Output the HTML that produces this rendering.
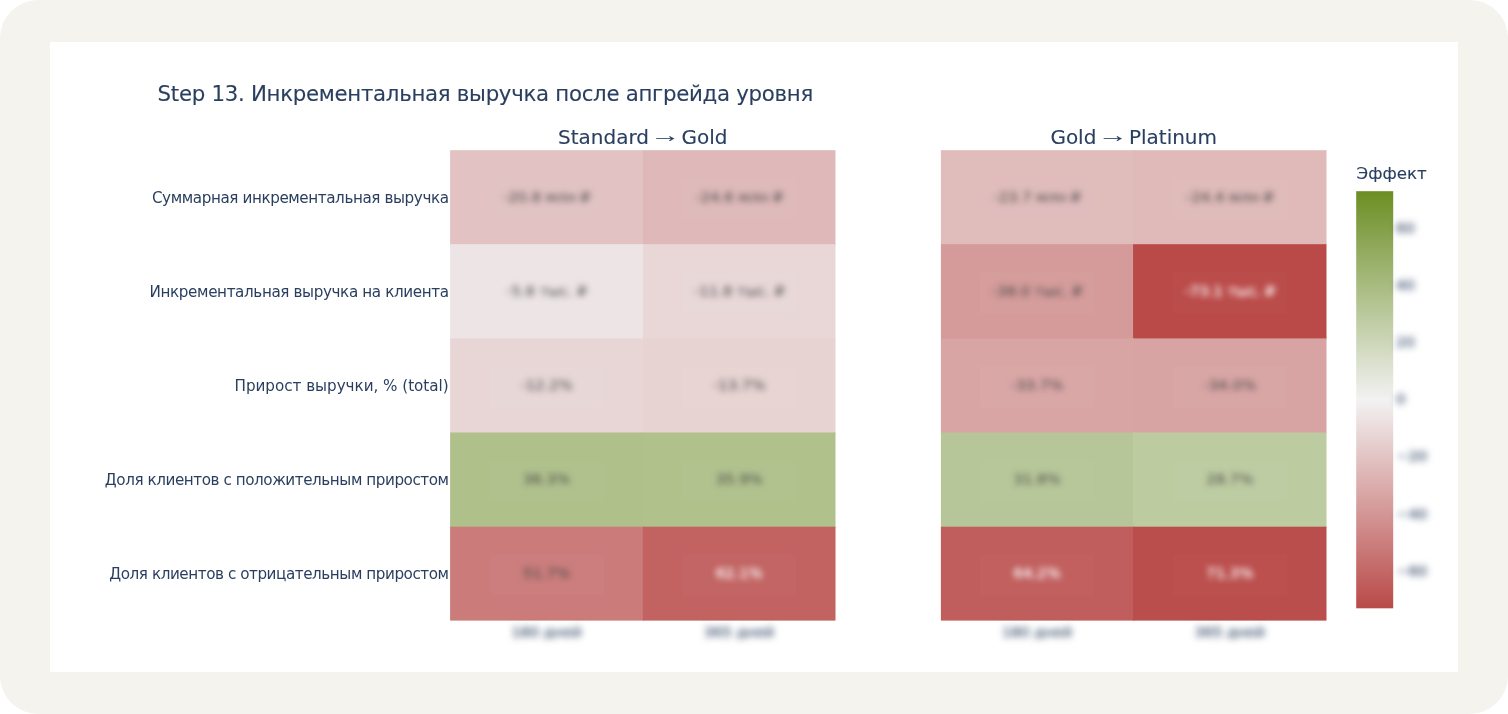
<!DOCTYPE html>
<html lang="ru"><head><meta charset="utf-8"><title>Step 13</title>
<style>
html,body{margin:0;padding:0;}
body{width:1508px;height:714px;background:#fff;position:relative;overflow:hidden;font-family:"DejaVu Sans","Liberation Sans",sans-serif;color:#2a3f5f;}
.frame{position:absolute;left:0;top:0;width:1508px;height:714px;background:#f4f3ee;border-radius:38px;}
.card{position:absolute;left:50px;top:42px;width:1408px;height:630px;background:#fff;}
.t{position:absolute;white-space:nowrap;line-height:1;}
.title,.sub,.yl,.cbt{filter:blur(0.4px);}
.title,.sub,.cbt{-webkit-text-stroke:0.12px currentColor;}
.title{font-size:21.3px;left:157.6px;top:83.2px;letter-spacing:-0.29px;}
.sub{font-size:20px;transform:translateX(-50%);top:127.4px;letter-spacing:-0.02px;}
.ar{font-family:"Liberation Sans",sans-serif;display:inline-block;transform:translateY(-1.6px) scaleX(1.5);}
.yl{font-size:15.2px;text-align:right;right:1059.4px;}
.hm{position:absolute;left:0;top:0;}
.ct{font-size:14.8px;transform:translate(-50%,-50%);margin-top:1.6px;color:#444;width:114px;height:41px;line-height:36.5px;text-align:center;background:rgba(255,255,255,0.028);}
.ct.w{color:#fff;background:rgba(255,255,255,0.016);-webkit-text-stroke:0.35px #fff;}
.ct span{display:block;filter:blur(3px);}
.xl{font-size:14.5px;transform:translateX(-50%);top:625px;filter:blur(3.6px);-webkit-text-stroke:0.2px currentColor;}
.cbt{font-size:16.7px;left:1356.5px;top:165.2px;}
.tk{font-size:14.8px;left:1396px;filter:blur(3.6px);-webkit-text-stroke:0.2px currentColor;}
</style></head><body>
<div class="frame"></div><div class="card"></div>
<div class="t title">Step 13. Инкрементальная выручка после апгрейда уровня</div>
<svg class="hm" width="1508" height="714" viewBox="0 0 1508 714">
<defs><linearGradient id="cbg" x1="0" y1="0" x2="0" y2="1"><stop offset="0" stop-color="rgb(107,142,35)"/><stop offset="0.5" stop-color="rgb(242,242,242)"/><stop offset="1" stop-color="rgb(185,74,72)"/></linearGradient></defs>
<g>
<rect x="450.10" y="150.20" width="193.80" height="95.00" fill="rgb(226,194,194)"/>
<rect x="642.90" y="150.20" width="192.60" height="95.00" fill="rgb(223,185,185)"/>
<rect x="450.10" y="244.20" width="193.80" height="95.20" fill="rgb(237,229,229)"/>
<rect x="642.90" y="244.20" width="192.60" height="95.20" fill="rgb(233,215,215)"/>
<rect x="450.10" y="338.40" width="193.80" height="95.10" fill="rgb(232,214,214)"/>
<rect x="642.90" y="338.40" width="192.60" height="95.10" fill="rgb(231,211,210)"/>
<rect x="450.10" y="432.50" width="193.80" height="95.20" fill="rgb(175,192,139)"/>
<rect x="642.90" y="432.50" width="192.60" height="95.20" fill="rgb(176,193,140)"/>
<rect x="450.10" y="526.70" width="193.80" height="93.90" fill="rgb(202,123,122)"/>
<rect x="642.90" y="526.70" width="192.60" height="93.90" fill="rgb(194,99,98)"/>
</g>
<g>
<rect x="940.90" y="150.20" width="193.20" height="95.00" fill="rgb(224,188,187)"/>
<rect x="1133.10" y="150.20" width="193.40" height="95.00" fill="rgb(223,186,185)"/>
<rect x="940.90" y="244.20" width="193.20" height="95.20" fill="rgb(212,155,154)"/>
<rect x="1133.10" y="244.20" width="193.40" height="95.20" fill="rgb(185,74,72)"/>
<rect x="940.90" y="338.40" width="193.20" height="95.10" fill="rgb(216,165,164)"/>
<rect x="1133.10" y="338.40" width="193.40" height="95.10" fill="rgb(215,164,163)"/>
<rect x="940.90" y="432.50" width="193.20" height="95.20" fill="rgb(183,198,152)"/>
<rect x="1133.10" y="432.50" width="193.40" height="95.20" fill="rgb(189,203,161)"/>
<rect x="940.90" y="526.70" width="193.20" height="93.90" fill="rgb(192,94,93)"/>
<rect x="1133.10" y="526.70" width="193.40" height="93.90" fill="rgb(186,78,76)"/>
</g>
<rect x="1356.2" y="191.2" width="37" height="417.1" fill="url(#cbg)"/>
</svg>
<div class="t sub" style="left:642.8px">Standard <span class="ar">→</span> Gold</div>
<div class="t ct" style="left:546.5px;top:197.2px"><span>-20.8 млн ₽</span></div>
<div class="t ct" style="left:739.2px;top:197.2px"><span>-24.6 млн ₽</span></div>
<div class="t ct" style="left:546.5px;top:291.3px"><span>-5.8 тыс. ₽</span></div>
<div class="t ct" style="left:739.2px;top:291.3px"><span>-11.8 тыс. ₽</span></div>
<div class="t ct" style="left:546.5px;top:385.4px"><span>-12.2%</span></div>
<div class="t ct" style="left:739.2px;top:385.4px"><span>-13.7%</span></div>
<div class="t ct" style="left:546.5px;top:479.6px"><span>36.3%</span></div>
<div class="t ct" style="left:739.2px;top:479.6px"><span>35.9%</span></div>
<div class="t ct" style="left:546.5px;top:573.7px"><span>51.7%</span></div>
<div class="t ct w" style="left:739.2px;top:573.7px"><span>62.1%</span></div>
<div class="t xl" style="left:546.5px">180 дней</div>
<div class="t xl" style="left:739.2px">365 дней</div>
<div class="t sub" style="left:1133.7px">Gold <span class="ar">→</span> Platinum</div>
<div class="t ct" style="left:1037.0px;top:197.2px"><span>-23.7 млн ₽</span></div>
<div class="t ct" style="left:1229.8px;top:197.2px"><span>-24.4 млн ₽</span></div>
<div class="t ct" style="left:1037.0px;top:291.3px"><span>-38.0 тыс. ₽</span></div>
<div class="t ct w" style="left:1229.8px;top:291.3px"><span>-73.1 тыс. ₽</span></div>
<div class="t ct" style="left:1037.0px;top:385.4px"><span>-33.7%</span></div>
<div class="t ct" style="left:1229.8px;top:385.4px"><span>-34.0%</span></div>
<div class="t ct" style="left:1037.0px;top:479.6px"><span>31.8%</span></div>
<div class="t ct" style="left:1229.8px;top:479.6px"><span>28.7%</span></div>
<div class="t ct w" style="left:1037.0px;top:573.7px"><span>64.2%</span></div>
<div class="t ct w" style="left:1229.8px;top:573.7px"><span>71.3%</span></div>
<div class="t xl" style="left:1037.0px">180 дней</div>
<div class="t xl" style="left:1229.8px">365 дней</div>
<div class="t yl" style="top:190.5px;letter-spacing:-0.415px">Суммарная инкрементальная выручка</div>
<div class="t yl" style="top:284.6px;letter-spacing:-0.39px">Инкрементальная выручка на клиента</div>
<div class="t yl" style="top:378.8px;letter-spacing:-0.035px">Прирост выручки, % (total)</div>
<div class="t yl" style="top:472.9px;letter-spacing:-0.445px">Доля клиентов с положительным приростом</div>
<div class="t yl" style="top:567.0px;letter-spacing:-0.445px">Доля клиентов с отрицательным приростом</div>
<div class="t cbt">Эффект</div>
<div class="t tk" style="top:220.6px">60</div>
<div class="t tk" style="top:277.8px">40</div>
<div class="t tk" style="top:335.0px">20</div>
<div class="t tk" style="top:392.2px">0</div>
<div class="t tk" style="top:449.4px">−20</div>
<div class="t tk" style="top:506.6px">−40</div>
<div class="t tk" style="top:563.8px">−60</div>
</body></html>
